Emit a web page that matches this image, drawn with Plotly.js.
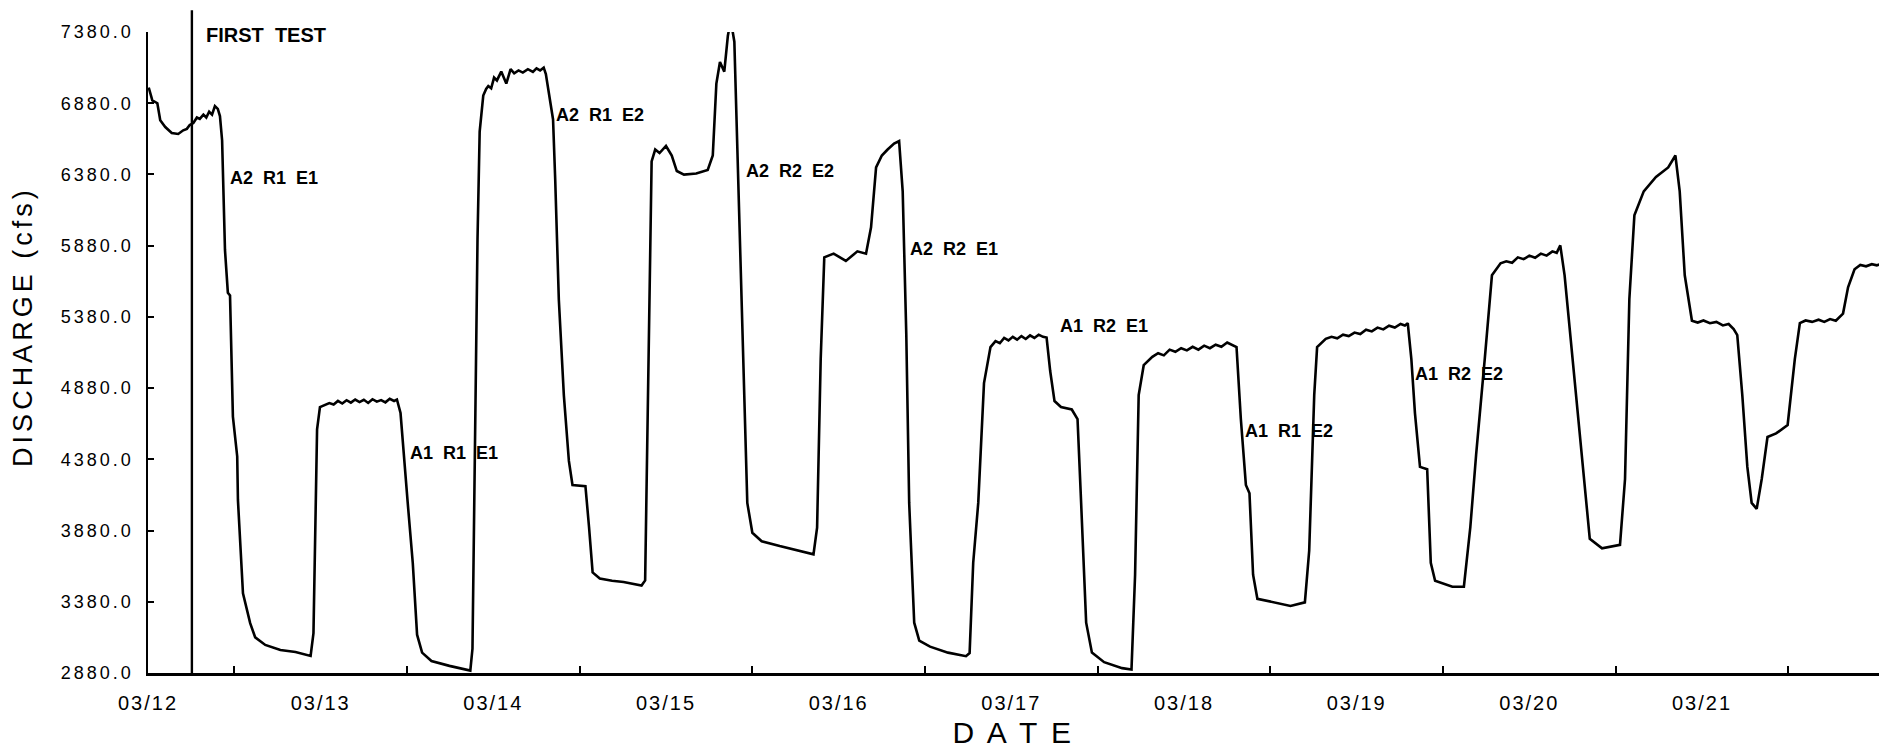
<!DOCTYPE html>
<html>
<head>
<meta charset="utf-8">
<script src="https://cdn.plot.ly/plotly-3.0.1.min.js"></script>
<style>
  html, body { margin: 0; padding: 0; background: #fff; }
  #chart { width: 1879px; height: 749px; }
  .xtick text { letter-spacing: 2px; }
  .ytick text { letter-spacing: 3px; }
  .annotation[data-index="0"] text { letter-spacing: 4px; }
  .annotation[data-index="1"] text { letter-spacing: 3px; }
</style>
</head>
<body>
<div id="chart"></div>
<script>
// Hours since 03/12 00:00 (one line per stretch of the record)
const hours = [
  0.1, 0.6, 1.3, 1.7, 2.4, 3.3, 4.2, 4.9, 5.4, 5.8, 6.3, 6.8, 7.2, 7.7, 8.1, 8.5, 8.9, 9.3, 9.7, 10.0,
  10.3, 10.7, 11.1, 11.4, 11.8, 12.4, 12.5, 13.2, 14.2, 14.9, 16.3, 18.4, 20.5, 22.1, 22.6, 23.0, 23.2, 23.5, 23.9,
  24.6, 25.2, 25.8, 26.4, 27.0, 27.6, 28.2, 28.8, 29.4, 30.0, 30.6, 31.2, 31.8, 32.4, 33.0, 33.6, 34.2, 34.6,
  35.1, 35.4, 36.1, 36.8, 37.4, 38.1, 39.4, 41.9, 44.1, 44.8, 45.1, 45.5, 45.8, 46.1,
  46.6, 47.0, 47.3, 47.7, 48.1, 48.5, 49.1, 49.8, 50.4, 50.9, 51.5, 52.1, 52.8, 53.5, 54.0, 54.5, 55.0, 55.3,
  55.8, 56.3, 56.6, 57.1, 57.8, 58.5, 59.0, 60.8, 61.3, 61.8, 62.8, 64.5, 66.1, 68.6, 69.1,
  69.6, 70.0, 70.5, 71.1, 72.0, 72.8, 73.5, 74.5, 76.2, 77.8, 78.5, 79.0, 79.5, 80.1, 80.6, 81.0, 81.5,
  81.8, 82.3, 82.8, 83.3, 84.0, 85.3, 87.8, 90.3, 92.5, 93.0,
  93.5, 94.0, 95.3, 97.0, 98.6, 99.8, 100.5, 101.2, 102.0, 102.8, 103.7, 104.4,
  104.9, 105.4, 105.8, 106.5, 107.2, 108.7, 111.2, 113.7, 114.2, 114.7, 115.4, 116.2,
  117.1, 117.8, 118.4, 119.0, 119.6, 120.2, 120.8, 121.4, 122.0, 122.6, 123.2, 123.8, 124.4, 124.9,
  125.4, 126.0, 126.9, 128.4, 129.2, 129.7, 130.4, 131.2, 132.9, 135.4, 136.7, 137.2, 137.7, 138.4,
  139.6, 140.4, 141.2, 142.0, 142.8, 143.6, 144.4, 145.2, 146.0, 146.8, 147.6, 148.4, 149.2, 150.0, 150.7, 151.3,
  151.9, 152.6, 153.1, 153.6, 154.2, 156.3, 158.8, 160.8, 161.4, 162.1, 162.5,
  163.7, 164.5, 165.3, 166.1, 166.9, 167.7, 168.5, 169.3, 170.1, 170.9, 171.7, 172.5, 173.3, 174.1, 174.7, 175.1,
  175.6, 176.1, 176.8, 177.8, 178.3, 178.9, 181.3, 182.9, 183.8, 184.6, 185.8, 186.8,
  188.0, 188.8, 189.6, 190.4, 191.2, 192.0, 192.8, 193.6, 194.4, 195.2, 195.8, 196.3,
  196.9, 198.3, 199.6, 200.4, 202.1, 204.6, 205.3, 205.9, 206.6, 207.9, 209.6, 211.3, 212.3, 212.9, 213.6,
  214.6, 215.4, 216.2, 217.1, 218.0, 218.9, 219.7, 220.4,
  220.9, 221.6, 222.3, 222.9, 223.6, 224.3, 225.1, 226.3, 227.9, 228.9,
  229.6, 230.4, 231.3, 232.2, 233.0, 233.8, 234.6, 235.6, 236.3,
  237.2, 238.0, 238.8, 239.6, 240.3, 241.0
];
// Discharge (cfs), same layout as the hours above
const discharge = [
  6990, 6900, 6880, 6760, 6713, 6671, 6664, 6690, 6700, 6727, 6741, 6780, 6770, 6800, 6780, 6820, 6800, 6860, 6840, 6790,
  6620, 5850, 5550, 5530, 4680, 4400, 4095, 3440, 3230, 3130, 3077, 3041, 3027, 3006, 3000, 3160, 3673, 4590, 4747,
  4760, 4775, 4765, 4790, 4772, 4795, 4778, 4800, 4782, 4798, 4776, 4802, 4785, 4796, 4780, 4805, 4790, 4800,
  4705, 4495, 4074, 3654, 3149, 3023, 2964, 2930, 2905, 2897, 3050, 4663, 5924, 6681,
  6934, 6980, 7001, 6985, 7060, 7040, 7102, 7018, 7119, 7090, 7110, 7095, 7119, 7100, 7125, 7110, 7130, 7085,
  6934, 6766, 6345, 5504, 4831, 4369, 4200, 4192, 3906, 3586, 3544, 3528, 3519, 3494, 3530,
  5083, 6471, 6555, 6530, 6580, 6513, 6404, 6379, 6387, 6412, 6513, 7018, 7169, 7102, 7354, 7463, 7312,
  6766, 5924, 4831, 4074, 3864, 3805, 3771, 3738, 3713, 3900,
  5083, 5798, 5824, 5773, 5840, 5824, 6009, 6429, 6513, 6555, 6597, 6614,
  6261, 5252, 4074, 3233, 3107, 3065, 3023, 2998, 3020, 3654, 4074, 4915,
  5168, 5210, 5195, 5232, 5215, 5240, 5220, 5245, 5225, 5250, 5232, 5255, 5240, 5235,
  5000, 4789, 4747, 4730, 4663, 4074, 3233, 3023, 2956, 2914, 2905, 3570, 4831, 5041,
  5100, 5125, 5110, 5150, 5135, 5160, 5145, 5170, 5150, 5178, 5160, 5185, 5170, 5200, 5185, 5168,
  4663, 4200, 4142, 3570, 3401, 3376, 3351, 3376, 3738, 4831, 5168,
  5226, 5240, 5230, 5255, 5245, 5270, 5260, 5290, 5278, 5305, 5292, 5318, 5305, 5330, 5320, 5336,
  5083, 4705, 4327, 4310, 3654, 3528, 3486, 3486, 3906, 4411, 5083, 5672,
  5756, 5770, 5760, 5798, 5785, 5810, 5795, 5824, 5810, 5840, 5830, 5882,
  5672, 4915, 4200, 3822, 3755, 3780, 4242, 5504, 6093, 6261, 6362, 6429, 6513, 6261, 5672,
  5353, 5340, 5355, 5336, 5345, 5320, 5330, 5294,
  5252, 4831, 4327, 4074, 4032, 4242, 4537, 4562, 4621, 5083,
  5336, 5355, 5345, 5360, 5345, 5365, 5353, 5403, 5588,
  5714, 5745, 5735, 5750, 5742, 5752
];
const dayTicks = [0, 24, 48, 72, 96, 120, 144, 168, 192, 216];
const dayLabels = ['03/12', '03/13', '03/14', '03/15', '03/16', '03/17', '03/18', '03/19', '03/20', '03/21'];
const yTicks = [2880, 3380, 3880, 4380, 4880, 5380, 5880, 6380, 6880, 7380];
const firstTestHour = 6.1;
const testLabels = ['A2  R1  E1', 'A1  R1  E1', 'A2  R1  E2', 'A2  R2  E2', 'A2  R2  E1', 'A1  R2  E1', 'A1  R1  E2', 'A1  R2  E2'];
const labelHours = [11.1, 36.1, 56.4, 82.8, 105.7, 126.5, 152.2, 175.8];
const labelLevels = [6355, 4425, 6797, 6404, 5857, 5316, 4579, 4979];

const nb = s => s.replace(/ /g, '\u00A0');
const annotations = [
  {text: 'DISCHARGE (cfs)', xref: 'paper', yref: 'paper', x: -0.0722, y: 0.54, xanchor: 'center', yanchor: 'middle',
   textangle: -90, showarrow: false, font: {family: 'Liberation Sans, Arial, sans-serif', size: 27, color: '#000'}},
  {text: 'D A T E', xref: 'paper', yref: 'paper', x: 0.5, y: -0.0936, xanchor: 'center', yanchor: 'middle',
   showarrow: false, font: {family: 'Liberation Sans, Arial, sans-serif', size: 30, color: '#000'}},
  {text: nb('FIRST  TEST'), xref: 'x', yref: 'y', x: 7.8, y: 7359, xanchor: 'left', yanchor: 'middle',
   showarrow: false, font: {family: 'Liberation Sans, Arial, sans-serif', size: 20, color: '#000', weight: 'bold'}}
];
testLabels.forEach((t, i) => {
  annotations.push({text: nb(t), xref: 'x', yref: 'y', x: labelHours[i], y: labelLevels[i], xanchor: 'left', yanchor: 'middle',
    showarrow: false, font: {family: 'Liberation Sans, Arial, sans-serif', size: 18, color: '#000', weight: 'bold'}});
});

const trace = {
  x: hours, y: discharge, type: 'scatter', mode: 'lines',
  line: {color: '#000', width: 2.6}, hoverinfo: 'skip', showlegend: false
};

const layout = {
  width: 1879, height: 749,
  margin: {l: 148, r: 0, t: 32, b: 76},
  paper_bgcolor: '#fff', plot_bgcolor: '#fff',
  showlegend: false,
  xaxis: {
    range: [0, 240.6], showgrid: false, zeroline: false,
    showline: true, linecolor: '#000', linewidth: 2.5,
    tickmode: 'array', tickvals: dayTicks, ticktext: dayLabels, ticks: '',
    ticklabelstandoff: 10,
    tickfont: {family: 'Liberation Sans, Arial, sans-serif', size: 20, color: '#000'},
    minor: {ticks: 'inside', tick0: 12, dtick: 24, ticklen: 7, tickwidth: 2, tickcolor: '#000', showgrid: false}
  },
  yaxis: {
    range: [2880, 7380], showgrid: false, zeroline: false,
    showline: true, linecolor: '#000', linewidth: 2.5,
    tickmode: 'array', tickvals: yTicks, tickformat: '.1f',
    ticks: 'inside', ticklen: 6, tickwidth: 2, tickcolor: '#000',
    ticklabelstandoff: 8,
    tickfont: {family: 'Liberation Sans, Arial, sans-serif', size: 18, color: '#000'}
  },
  shapes: [
    {type: 'line', xref: 'x', yref: 'paper', x0: firstTestHour, x1: firstTestHour, y0: 0, y1: 1.034,
     line: {color: '#000', width: 2.4}}
  ],
  annotations: annotations
};

Plotly.newPlot('chart', [trace], layout, {displayModeBar: false, staticPlot: true});
</script>
</body>
</html>
